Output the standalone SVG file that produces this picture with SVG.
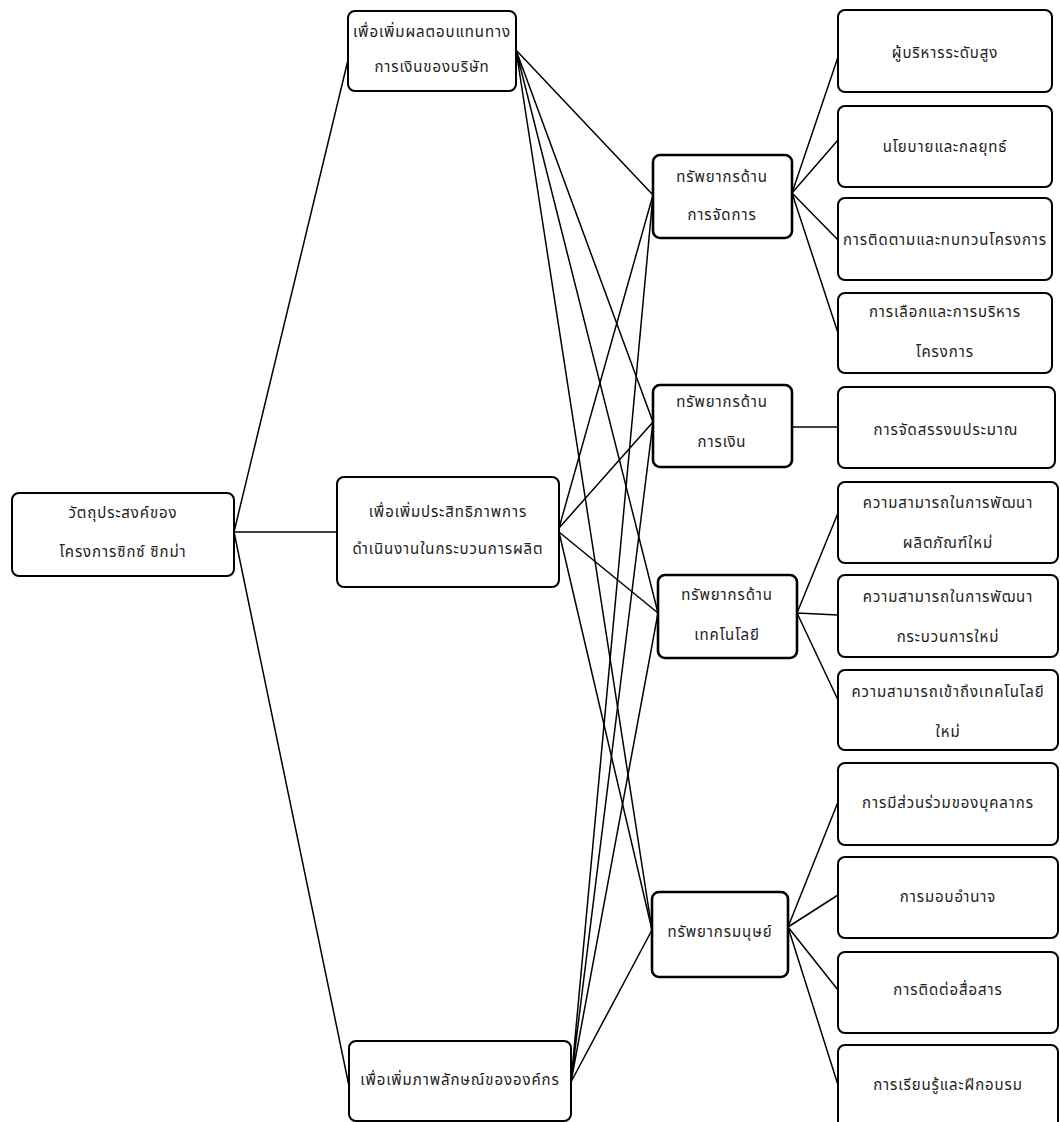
<svg xmlns="http://www.w3.org/2000/svg" width="1060" height="1122" viewBox="0 0 1060 1122">
<style>
.box{fill:#fff;stroke:#000;stroke-width:2}
.mid{fill:#fff;stroke:#000;stroke-width:2.6}
.t{font-family:"Noto Sans Thai","Tahoma","Noto Sans","DejaVu Sans",sans-serif;font-size:15px;letter-spacing:0.9px;fill:#222;text-anchor:middle;dominant-baseline:central}
.c{stroke:#000;stroke-width:1.5;fill:none}
</style>
<rect width="1060" height="1122" fill="#fff"/>
<g id="connectors" class="c">
<path d="M234 532L348 60M234 532L337 532M234 532L349 1086"/>
<path d="M516 50L653 195M516 50L653 422M516 50L658 613M516 50L652 930"/>
<path d="M559 528L653 195M559 528L653 422M559 532L658 613M559 532L652 930"/>
<path d="M571 1082L653 195M571 1082L653 422M571 1082L658 613M571 1082L652 930"/>
<path d="M792 193L838 57M792 193L838 140M792 193L838 240M792 193L838 333"/>
<path d="M792 427L838 427"/>
<path d="M797 613L838 513M797 613L838 615M797 613L838 700"/>
<path d="M788 927L838 802M788 927L838 895M788 927L838 990M788 927L838 1085"/>
</g>
<g id="root"><rect class="box" x="12" y="493" width="222" height="83" rx="7"/><text class="t" x="123" y="513">วัตถุประสงค์ของ</text><text class="t" x="123" y="552">โครงการซิกซ์ ซิกม่า</text></g>
<g id="b1"><rect class="box" x="348" y="11" width="168" height="80" rx="7"/><text class="t" x="432" y="32">เพื่อเพิ่มผลตอบแทนทาง</text><text class="t" x="432" y="67">การเงินของบริษัท</text></g>
<g id="b2"><rect class="box" x="337" y="477" width="222" height="110" rx="7"/><text class="t" x="448" y="512">เพื่อเพิ่มประสิทธิภาพการ</text><text class="t" x="448" y="549">ดำเนินงานในกระบวนการผลิต</text></g>
<g id="b3"><rect class="box" x="349" y="1041" width="222" height="80" rx="7"/><text class="t" x="460" y="1080">เพื่อเพิ่มภาพลักษณ์ขององค์กร</text></g>
<g id="c1"><rect class="mid" x="653" y="155" width="139" height="83" rx="7"/><text class="t" x="722" y="177">ทรัพยากรด้าน</text><text class="t" x="722" y="215">การจัดการ</text></g>
<g id="c2"><rect class="mid" x="653" y="385" width="139" height="82" rx="7"/><text class="t" x="722" y="402">ทรัพยากรด้าน</text><text class="t" x="722" y="442">การเงิน</text></g>
<g id="c3"><rect class="mid" x="658" y="575" width="139" height="83" rx="7"/><text class="t" x="727" y="595">ทรัพยากรด้าน</text><text class="t" x="727" y="635">เทคโนโลยี</text></g>
<g id="c4"><rect class="mid" x="652" y="892" width="136" height="85" rx="7"/><text class="t" x="720" y="932">ทรัพยากรมนุษย์</text></g>
<g id="d1"><rect class="box" x="838" y="10" width="214" height="82" rx="7"/><text class="t" x="945" y="53">ผู้บริหารระดับสูง</text></g>
<g id="d2"><rect class="box" x="838" y="106" width="214" height="81" rx="7"/><text class="t" x="945" y="147">นโยบายและกลยุทธ์</text></g>
<g id="d3"><rect class="box" x="838" y="198" width="214" height="82" rx="7"/><text class="t" x="945" y="240">การติดตามและทบทวนโครงการ</text></g>
<g id="d4"><rect class="box" x="838" y="293" width="214" height="80" rx="7"/><text class="t" x="945" y="312">การเลือกและการบริหาร</text><text class="t" x="945" y="352">โครงการ</text></g>
<g id="d5"><rect class="box" x="838" y="387" width="217" height="81" rx="7"/><text class="t" x="946" y="430">การจัดสรรงบประมาณ</text></g>
<g id="d6"><rect class="box" x="838" y="482" width="220" height="81" rx="7"/><text class="t" x="948" y="503">ความสามารถในการพัฒนา</text><text class="t" x="948" y="543">ผลิตภัณฑ์ใหม่</text></g>
<g id="d7"><rect class="box" x="838" y="575" width="220" height="82" rx="7"/><text class="t" x="948" y="597">ความสามารถในการพัฒนา</text><text class="t" x="948" y="637">กระบวนการใหม่</text></g>
<g id="d8"><rect class="box" x="838" y="670" width="220" height="80" rx="7"/><text class="t" x="948" y="692">ความสามารถเข้าถึงเทคโนโลยี</text><text class="t" x="948" y="732">ใหม่</text></g>
<g id="d9"><rect class="box" x="838" y="763" width="220" height="82" rx="7"/><text class="t" x="948" y="803">การมีส่วนร่วมของบุคลากร</text></g>
<g id="d10"><rect class="box" x="838" y="857" width="220" height="81" rx="7"/><text class="t" x="948" y="897">การมอบอำนาจ</text></g>
<g id="d11"><rect class="box" x="838" y="952" width="220" height="81" rx="7"/><text class="t" x="948" y="990">การติดต่อสื่อสาร</text></g>
<g id="d12"><rect class="box" x="838" y="1045" width="220" height="85" rx="7"/><text class="t" x="948" y="1085">การเรียนรู้และฝึกอบรม</text></g>
</svg>
